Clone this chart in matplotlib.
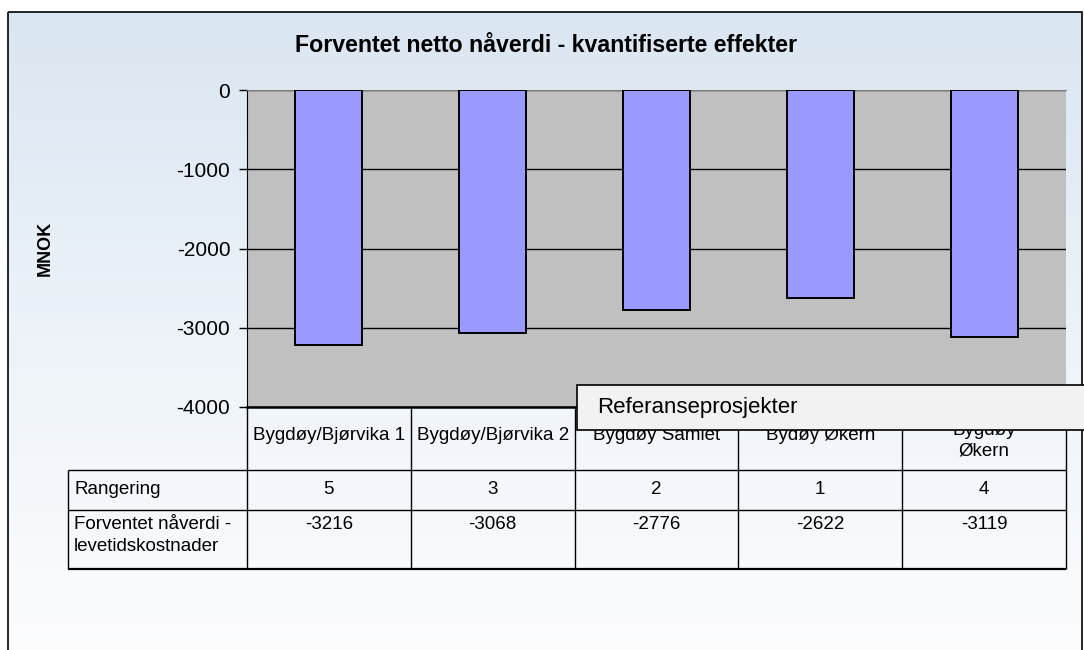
import matplotlib

matplotlib.use("Agg")
import matplotlib.pyplot as plt
import numpy as np
from matplotlib.colors import LinearSegmentedColormap
from matplotlib.patches import Rectangle
from matplotlib.transforms import blended_transform_factory

plt.rcParams["font.family"] = ["Liberation Sans", "DejaVu Sans"]
plt.rcParams["axes.unicode_minus"] = False

# --- data ---
categories = [
    "Bygdøy/Bjørvika 1",
    "Bygdøy/Bjørvika 2",
    "Bygdøy Samlet",
    "Bydøy Økern",
    "Bygdøy\nØkern",
]
npv = [-3216, -3068, -2776, -2622, -3119]
ranking = [5, 3, 2, 1, 4]
row_labels = ["Rangering", "Forventet nåverdi -\nlevetidskostnader"]
y_ticks = [0, -1000, -2000, -3000, -4000]

TITLE = "Forventet netto nåverdi - kvantifiserte effekter"
LEGEND_TEXT = "Referanseprosjekter"

W, H = 1084, 650
fig = plt.figure(figsize=(W / 100, H / 100), dpi=100)

# background: framed chart area with a light blue -> white gradient
bg = fig.add_axes([0, 0, 1, 1], zorder=-10)
bg.set_xlim(0, W)
bg.set_ylim(H, 0)
bg.axis("off")
cmap = LinearSegmentedColormap.from_list("bg", ["#DAE6F2", "#EDF3F9", "#FDFDFE"])
bg.imshow(np.linspace(0, 1, 256)[:, None], cmap=cmap, aspect="auto",
          extent=[8, 1082, 660, 12])
bg.add_patch(Rectangle((8, 12), 1074, 700, fill=False, ec="black", lw=1.2))

# plot area (pixel box 247..1066 x 90..407)
ax = fig.add_axes([247 / W, 1 - 407 / H, 819 / W, 317 / H])
ax.set_facecolor("#C0C0C0")
x = np.arange(len(categories))
ax.bar(x, npv, width=0.41, color="#9999FF", edgecolor="black", linewidth=1.4,
       zorder=3)
ax.set_xlim(-0.5, len(categories) - 0.5)
ax.set_ylim(-4000, 0)
ax.set_yticks(y_ticks)
ax.set_yticklabels([str(t) for t in y_ticks], fontsize=15)
ax.tick_params(axis="y", length=6, width=1, pad=6)
ax.set_xticks([])
ax.yaxis.grid(True, color="black", linewidth=1)
ax.set_axisbelow(True)
ax.spines["right"].set_visible(False)
ax.spines["top"].set_color("#808080")
ax.spines["bottom"].set_linewidth(1.8)
ax.set_ylabel("MNOK", fontsize=13, fontweight="bold")
ax.yaxis.set_label_coords((54 - 247) / 819, 0.5)

# data table under the bars (pixel rows 407-470-510-569, label col from x=68)
tr = blended_transform_factory(ax.transData, ax.transAxes)
ty = lambda px: (407 - px) / 317  # noqa: E731
lx0 = (68 - 247) / 819
edges = np.arange(len(categories) + 1) - 0.5
ax.vlines(edges, ty(569), 0, transform=tr, colors="black", lw=1,
          clip_on=False)
ax.vlines([lx0], ty(569), ty(470), transform=ax.transAxes, colors="black",
          lw=1, clip_on=False)
for py, lw in ((470, 1), (510, 1), (569, 1.6)):
    ax.hlines(ty(py), lx0, 1, transform=ax.transAxes, colors="black", lw=lw,
              clip_on=False)

for i, cat in enumerate(categories):
    ax.text(i, ty(436 + 5 * cat.count("\n")), cat, transform=tr, ha="center",
            va="center", fontsize=13.5, linespacing=1.3)
    ax.text(i, ty(490), str(ranking[i]), transform=tr, ha="center",
            va="center", fontsize=13.5)
    ax.text(i, ty(516), str(npv[i]), transform=tr, ha="center", va="top",
            fontsize=13.5)
lx = (74 - 247) / 819
ax.text(lx, ty(490), row_labels[0], transform=ax.transAxes, ha="left",
        va="center", fontsize=13.5)
ax.text(lx, ty(516), row_labels[1], transform=ax.transAxes, ha="left",
        va="top", fontsize=13.5, linespacing=1.35)

# title
fig.text(546 / W, 1 - 45 / H, TITLE, ha="center", va="center", fontsize=16.7,
         fontweight="bold")

# legend box overlapping the table header
fig.add_artist(Rectangle((577 / W, 1 - 430 / H), (1100 - 577) / W, 45 / H,
                         transform=fig.transFigure, facecolor="#F2F2F2",
                         edgecolor="black", lw=1.2, zorder=5))
fig.text(597 / W, 1 - 408 / H, LEGEND_TEXT, ha="left", va="center",
         fontsize=16, zorder=6)

fig.savefig("out.png", dpi=100)
